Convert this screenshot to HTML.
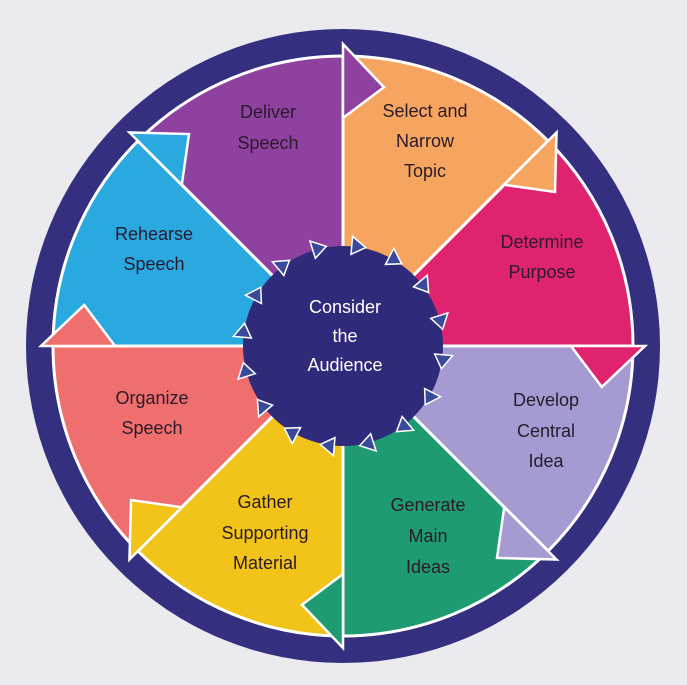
<!DOCTYPE html>
<html><head><meta charset="utf-8">
<style>
html,body{margin:0;padding:0;background:#e9ebef;}
svg{display:block;}
text{font-family:"Liberation Sans",sans-serif;font-size:18px;text-anchor:middle;fill:#2a1a2a;}
</style></head>
<body>
<svg id="s" width="687" height="685" viewBox="0 0 687 685" xmlns="http://www.w3.org/2000/svg">
<rect width="687" height="685" fill="#e9ebef"/>
<circle cx="343" cy="346" r="317" fill="#352f80"/>
<g id="sec"></g>
<g id="arr"></g>
<circle cx="343" cy="346" r="100" fill="#2f2a7a"/>
<g id="ring"></g>
<g>
<text x="268" y="118">Deliver</text><text x="268" y="149">Speech</text>
<text x="425" y="117">Select and</text><text x="425" y="147">Narrow</text><text x="425" y="177">Topic</text>
<text x="542" y="248">Determine</text><text x="542" y="278">Purpose</text>
<text x="546" y="406">Develop</text><text x="546" y="437">Central</text><text x="546" y="467">Idea</text>
<text x="428" y="511">Generate</text><text x="428" y="542">Main</text><text x="428" y="573">Ideas</text>
<text x="265" y="508">Gather</text><text x="265" y="539">Supporting</text><text x="265" y="569">Material</text>
<text x="152" y="404">Organize</text><text x="152" y="434">Speech</text>
<text x="154" y="240">Rehearse</text><text x="154" y="270">Speech</text>
<text x="345" y="313" style="fill:#fff">Consider</text><text x="345" y="342" style="fill:#fff">the</text><text x="345" y="371" style="fill:#fff">Audience</text>
</g>
</svg>
<script>
var cx=343,cy=346,R=290,NS="http://www.w3.org/2000/svg";
var cols=["#f6a560","#e0236f","#a59bd2","#1f9b74","#f2c41a","#ee6f6d","#2aa8e0","#8f41a0"];
function P(r,a){a=a*Math.PI/180;return [cx+r*Math.cos(a),cy+r*Math.sin(a)];}
function el(t,at,p){var e=document.createElementNS(NS,t);for(var k in at)e.setAttribute(k,at[k]);document.getElementById(p).appendChild(e);return e;}
for(var i=0;i<8;i++){
 var a0=-90+45*i,a1=a0+45;
 var p0=P(R,a0),p1=P(R,a1);
 el("path",{d:"M"+cx+","+cy+"L"+p0+"A"+R+","+R+" 0 0 1 "+p1+"Z",fill:cols[i],stroke:"#fff","stroke-width":3},"sec");
}
for(var i=0;i<8;i++){
 var a=-90+45*(i+1);
 el("path",{d:"M"+P(228,a)+"L"+P(302,a)+"L"+P(262,a+9)+"Z",fill:cols[i],stroke:"#fff","stroke-width":2.5},"arr");
}
for(var k=0;k<16;k++){
 var a=k*22.5+5;
 el("path",{d:"M"+P(92,a)+"L"+P(110,a)+"L"+P(101,a+8)+"Z",fill:"#3a4a9a",stroke:"#fff","stroke-width":1.5},"ring");
}
</script>
</body></html>
